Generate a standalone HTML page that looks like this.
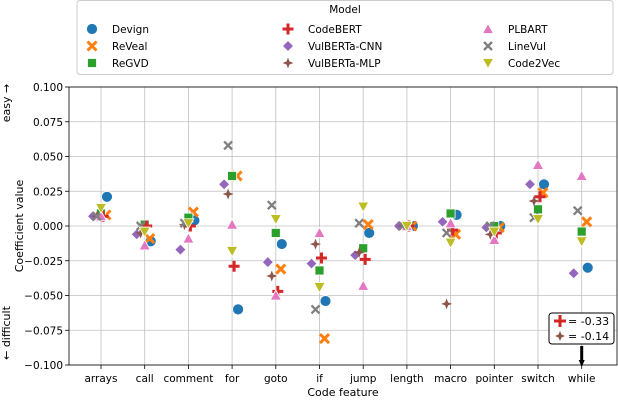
<!DOCTYPE html>
<html><head><meta charset="utf-8"><style>
body{margin:0;background:#fff;font-family:"Liberation Sans","DejaVu Sans",sans-serif;}
svg text{font-family:"DejaVu Sans","Liberation Sans",sans-serif;}
</style></head><body>
<svg id="chart" width="618" height="400" viewBox="0 0 618 400" xmlns="http://www.w3.org/2000/svg"></svg>
<script>
const categories=["arrays","call","comment","for","goto","if","jump","length","macro","pointer","switch","while"];
const models=["Devign","ReVeal","ReGVD","CodeBERT","VulBERTa-CNN","VulBERTa-MLP","PLBART","LineVul","Code2Vec"];
const devign=[0.021,-0.011,0.004,-0.060,-0.013,-0.054,-0.005,0.0,0.008,0.0,0.030,-0.030];
const reveal=[0.008,-0.009,0.010,0.036,-0.031,-0.081,0.001,0.0,-0.006,-0.001,0.024,0.003];
const regvd=[0.009,0.001,0.006,0.036,-0.005,-0.032,-0.016,0.0,0.009,0.0,0.012,-0.004];
const codebert=[0.007,0.0,0.0,-0.029,-0.047,-0.023,-0.024,0.0,-0.003,-0.005,0.021,-0.33];
const vcnn=[0.007,-0.006,-0.017,0.030,-0.026,-0.027,-0.021,0.0,0.003,-0.001,0.030,-0.034];
const vmlp=[0.007,-0.005,0.001,0.023,-0.036,-0.013,-0.019,0.0,-0.056,-0.006,0.018,-0.14];
const plbart=[0.007,-0.014,-0.009,0.001,-0.050,-0.005,-0.043,0.0,0.002,-0.010,0.044,0.036];
const linevul=[0.007,0.0,0.002,0.058,0.015,-0.060,0.002,0.0,-0.005,0.0,0.006,0.011];
const code2vec=[0.013,-0.004,0.002,-0.018,0.005,-0.044,0.014,0.0,-0.012,-0.004,0.005,-0.011];
const yTicks=[0.1,0.075,0.05,0.025,0,-0.025,-0.05,-0.075,-0.1];
const yTickLabels=["0.100","0.075","0.050","0.025","0.000","−0.025","−0.050","−0.075","−0.100"];
const series=[devign,reveal,regvd,codebert,vcnn,vmlp,plbart,linevul,code2vec];
const colors=["#1f77b4","#ff7f0e","#2ca02c","#d62728","#9467bd","#8c564b","#e377c2","#7f7f7f","#bcbd22"];
const shapes=["circle","x","square","plus","diamond","star","tri","xs","tridown"];
const dodge=[6,5,0,2,-8,-4,0,-4,0];
const svg=document.getElementById('chart');
const NS="http://www.w3.org/2000/svg";
const L=69,R=617,T=87,B=365;
function x(i){return 101+i*43.7;}
function y(v){return T+(0.1-v)/0.2*(B-T);}
function el(tag,attrs,parent){const e=document.createElementNS(NS,tag);for(const k in attrs)e.setAttribute(k,attrs[k]);(parent||svg).appendChild(e);return e;}
function marker(shape,cx,cy,col,g,s){
 s=s||5.5;let e;
 if(shape=="circle")e=el('circle',{cx,cy,r:s,fill:col,stroke:'#fff','stroke-width':0.8},g);
 else if(shape=="square")e=el('rect',{x:cx-s+1,y:cy-s+1,width:2*s-2,height:2*s-2,fill:col,stroke:'#fff','stroke-width':0.8},g);
 else if(shape=="diamond")e=el('polygon',{points:`${cx},${cy-s} ${cx+s},${cy} ${cx},${cy+s} ${cx-s},${cy}`,fill:col,stroke:'#fff','stroke-width':0.8},g);
 else if(shape=="tri")e=el('polygon',{points:`${cx},${cy-s} ${cx+s},${cy+s-1} ${cx-s},${cy+s-1}`,fill:col,stroke:'#fff','stroke-width':0.8},g);
 else if(shape=="tridown")e=el('polygon',{points:`${cx},${cy+s} ${cx+s},${cy-s+1} ${cx-s},${cy-s+1}`,fill:col,stroke:'#fff','stroke-width':0.8},g);
 else if(shape=="plus")e=el('path',{d:`M${cx-s},${cy}H${cx+s}M${cx},${cy-s}V${cy+s}`,stroke:col,'stroke-width':3},g);
 else if(shape=="x")e=el('path',{d:`M${cx-s+1},${cy-s+1}L${cx+s-1},${cy+s-1}M${cx-s+1},${cy+s-1}L${cx+s-1},${cy-s+1}`,stroke:col,'stroke-width':3},g);
 else if(shape=="xs")e=el('path',{d:`M${cx-4},${cy-4}L${cx+4},${cy+4}M${cx-4},${cy+4}L${cx+4},${cy-4}`,stroke:col,'stroke-width':2.3},g);
 else if(shape=="star")e=el('polygon',{points:`${cx},${cy-s} ${cx+1.5},${cy-1.5} ${cx+s},${cy} ${cx+1.5},${cy+1.5} ${cx},${cy+s} ${cx-1.5},${cy+1.5} ${cx-s},${cy} ${cx-1.5},${cy-1.5}`,fill:col},g);
 return e;
}
const grid=el('g',{});


yTicks.forEach((v,i)=>{
 el('line',{x1:L,x2:R,y1:y(v),y2:y(v),stroke:'#c0c0c0','stroke-width':0.8},grid);
 el('line',{x1:L-4,x2:L,y1:y(v),y2:y(v),stroke:'#000','stroke-width':0.8},grid);
 const t=el('text',{x:L-6,y:y(v)+4,'text-anchor':'end','font-size':10.5,fill:'#000'});
 t.textContent=yTickLabels[i];
 
 
});
categories.forEach((c,i)=>{
 el('line',{x1:x(i),x2:x(i),y1:T,y2:B,stroke:'#c0c0c0','stroke-width':0.8},grid);
 el('line',{x1:x(i),x2:x(i),y1:B,y2:B+4,stroke:'#000','stroke-width':0.8},grid);
 const t=el('text',{x:x(i),y:B+17,'text-anchor':'middle','font-size':10.5,fill:'#000'});
 t.textContent=c;
 
 
});
series.forEach((vals,m)=>{
 const g=el('g',{});
 
 
 vals.forEach((v,i)=>{
  if(v<-0.1||v>0.1)return;
  const p=marker(shapes[m],x(i)+dodge[m],y(v),colors[m],g);
  
  
 });
});
el('rect',{x:L,y:T,width:R-L,height:B-T,fill:'none',stroke:'#000','stroke-width':0.8});
let t=el('text',{x:343,y:396,'text-anchor':'middle','font-size':11});t.textContent="Code feature";

t=el('text',{x:0,y:0,'text-anchor':'middle','font-size':11,transform:'translate(23,226) rotate(-90)'});t.textContent="Coefficient value";

t=el('text',{x:0,y:0,'text-anchor':'middle','font-size':11,transform:'translate(10,103) rotate(-90)'});t.textContent="easy →";

t=el('text',{x:0,y:0,'text-anchor':'middle','font-size':11,transform:'translate(10,333) rotate(-90)'});t.textContent="← difficult";

const ann=el('g',{});


el('rect',{x:549,y:313,width:65,height:31,rx:3,fill:'#fff',stroke:'#000','stroke-width':1},ann);
marker('plus',560,321,colors[3],ann,6);
marker('star',560,336,colors[5],ann,5);
t=el('text',{x:568,y:325,'font-size':11},ann);t.textContent="= "+codebert[11].toFixed(2);
t=el('text',{x:568,y:340,'font-size':11},ann);t.textContent="= "+vmlp[11].toFixed(2);
el('line',{x1:x(11),x2:x(11),y1:346,y2:362,stroke:'#000','stroke-width':3},ann);
el('polygon',{points:`${x(11)-3},360 ${x(11)+3},360 ${x(11)},367`,fill:'#000'},ann);
const lg=el('g',{});


el('rect',{x:77,y:0.5,width:536,height:74,rx:3,fill:'#fff',stroke:'#ccc','stroke-width':1},lg);
t=el('text',{x:345,y:13,'text-anchor':'middle','font-size':10.5},lg);t.textContent="Model";
models.forEach((m,i)=>{
 const col=Math.floor(i/3),row=i%3;
 const mx=[92,288,488][col],my=29+row*17;
 const g=el('g',{},lg);
 
 
 marker(shapes[i],mx,my,colors[i],g,5.5);
 const tt=el('text',{x:mx+20,y:my+4,'font-size':10.5},g);tt.textContent=m;
});
</script>
</body></html>
